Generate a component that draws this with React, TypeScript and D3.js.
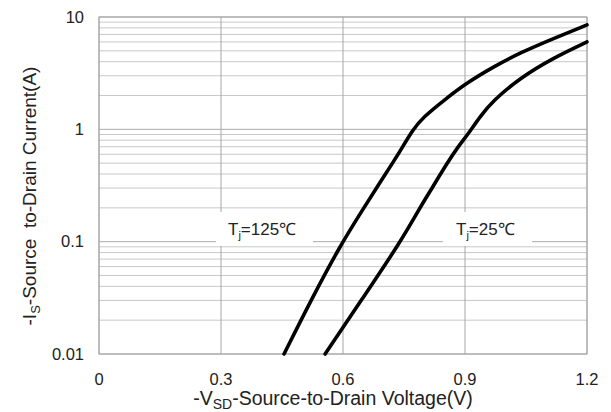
import React from 'react';
import * as d3 from 'd3';

// axis ticks
const vTicks = [0, 0.3, 0.6, 0.9, 1.2];
const iTicks = [0.01, 0.1, 1, 10];
const iTickLabels = ['0.01', '0.1', '1', '10'];

// Tj = 125C curve
const v125 = [0.455, 0.525, 0.593, 0.649, 0.691, 0.733, 0.772, 0.797, 0.851, 0.905, 0.97, 1.035, 1.12, 1.2];
const i125 = [0.01, 0.032, 0.092, 0.194, 0.337, 0.575, 1.0, 1.28, 1.85, 2.6, 3.6, 4.8, 6.5, 8.5];

// Tj = 25C curve
const v25 = [0.556, 0.65, 0.742, 0.789, 0.819, 0.856, 0.883, 0.907, 0.937, 0.969, 1.035, 1.117, 1.2];
const i25 = [0.01, 0.032, 0.1, 0.2, 0.3, 0.5, 0.7, 0.9, 1.3, 1.8, 2.86, 4.32, 6.0];

const W = 611;
const H = 412;
const margin = { left: 99, right: 24, top: 17, bottom: 58 };
const font = '"Liberation Sans", Arial, sans-serif';

const App = () => {
  const x = d3.scaleLinear().domain([0, 1.2]).range([margin.left, W - margin.right]);
  const y = d3.scaleLog().domain([0.01, 10]).range([H - margin.bottom, margin.top]);

  // minor gridlines 2..9 in every decade
  const minor: number[] = [];
  [0.01, 0.1, 1].forEach(d => {
    for (let k = 2; k <= 9; k++) minor.push(d * k);
  });

  const line = d3.line<[number, number]>()
    .x(d => x(d[0]))
    .y(d => y(d[1]))
    .curve(d3.curveBasis);

  const pts125 = v125.map((v, i) => [v, i125[i]] as [number, number]);
  const pts25 = v25.map((v, i) => [v, i25[i]] as [number, number]);

  const x0 = margin.left, x1 = W - margin.right;
  const y0 = margin.top, y1 = H - margin.bottom;

  return (
    <svg width={W} height={H} style={{ position: 'absolute', left: 0, top: 0 }} fontFamily={font}>
      <rect width={W} height={H} fill="#fff" />
      {/* horizontal grid */}
      {minor.map(v => (
        <line key={'m' + v} x1={x0} x2={x1} y1={y(v)} y2={y(v)} stroke="#c8c8c8" strokeWidth={1} />
      ))}
      {iTicks.map(v => (
        <line key={'M' + v} x1={x0} x2={x1} y1={y(v)} y2={y(v)} stroke="#aaaaaa" strokeWidth={1} />
      ))}
      {/* vertical grid */}
      {vTicks.map(v => (
        <line key={'v' + v} x1={x(v)} x2={x(v)} y1={y0} y2={y1} stroke="#a6a6a6" strokeWidth={1} />
      ))}
      <rect x={x0} y={y0} width={x1 - x0} height={y1 - y0} fill="none" stroke="#a6a6a6" />

      {/* label boxes */}
      <rect x={216} y={212} width={97} height={34} fill="#fff" />
      <rect x={443} y={212} width={89} height={34} fill="#fff" />
      <text x={228} y={235} fontSize={17} fill="#222">
        T<tspan fontSize={11} dy={4}>j</tspan><tspan dy={-4}>=125℃</tspan>
      </text>
      <text x={456} y={235} fontSize={17} fill="#222">
        T<tspan fontSize={11} dy={4}>j</tspan><tspan dy={-4}>=25℃</tspan>
      </text>

      {/* curves */}
      <path d={line(pts125) || ''} fill="none" stroke="#000" strokeWidth={3.6} strokeLinecap="round" />
      <path d={line(pts25) || ''} fill="none" stroke="#000" strokeWidth={3.6} strokeLinecap="round" />

      {/* tick labels */}
      {vTicks.map(v => (
        <text key={'xt' + v} x={x(v)} y={385} fontSize={16.5} textAnchor="middle" fill="#222">
          {d3.format('')(v)}
        </text>
      ))}
      {iTicks.map((v, i) => (
        <text key={'yt' + v} x={84} y={y(v)} dy="0.35em" fontSize={16.5} textAnchor="end" fill="#222">
          {iTickLabels[i]}
        </text>
      ))}

      {/* axis titles */}
      <text x={333} y={405} fontSize={19.5} textAnchor="middle" fill="#222">
        -V<tspan fontSize={14} dy={4}>SD</tspan><tspan dy={-4}>-Source-to-Drain Voltage(V)</tspan>
      </text>
      <text transform="translate(36,196) rotate(-90)" fontSize={19} textAnchor="middle" fill="#222" style={{ whiteSpace: 'pre' }}>
        -I<tspan fontSize={13} dy={4}>S</tspan><tspan dy={-4}>{'-Source  to-Drain Current(A)'}</tspan>
      </text>
    </svg>
  );
};

export default App;
